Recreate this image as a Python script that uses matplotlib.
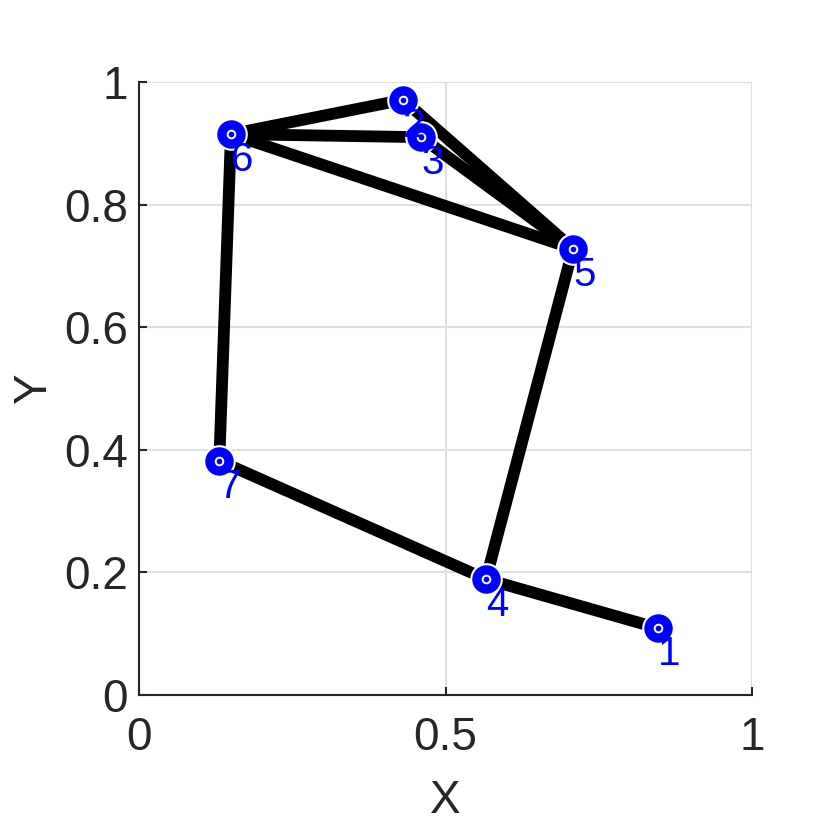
"""Graph plot of a small 7-node network (MATLAB-style look)."""

import matplotlib

matplotlib.use("Agg")
import matplotlib.pyplot as plt

plt.rcParams["font.family"] = ["Liberation Sans", "DejaVu Sans"]

node_ids = ["1", "2", "3", "4", "5", "6", "7"]
node_x = [0.847, 0.431, 0.460, 0.566, 0.708, 0.150, 0.131]
node_y = [0.109, 0.971, 0.910, 0.189, 0.728, 0.915, 0.382]
edges = [(6, 2), (6, 3), (6, 5), (2, 5), (3, 5), (6, 7), (7, 4), (4, 5), (4, 1)]

ticks = [0, 0.2, 0.4, 0.6, 0.8, 1]
xticks = [0, 0.5, 1]

fig = plt.figure(figsize=(8.3, 8.3), dpi=100)
ax = fig.add_axes([139 / 830, 1 - 695 / 830, 613 / 830, 613 / 830])

for a, b in edges:
    ax.plot([node_x[a - 1], node_x[b - 1]], [node_y[a - 1], node_y[b - 1]],
            color="black", linewidth=8.5, solid_capstyle="butt", zorder=2)

ax.plot(node_x, node_y, linestyle="none", marker="o", markersize=22,
        markerfacecolor="blue", markeredgecolor="white", markeredgewidth=1.5, zorder=3)
ax.plot(node_x, node_y, linestyle="none", marker="o", markersize=5.5,
        markerfacecolor="blue", markeredgecolor="white", markeredgewidth=1.4, zorder=4)

for name, x, y in zip(node_ids, node_x, node_y):
    ax.annotate(name, (x, y), xytext=(0, -5), textcoords="offset points",
                ha="left", va="top", color="blue", fontsize=29, zorder=5)

ax.set_xlim(0, 1)
ax.set_ylim(0, 1)
ax.set_xticks(xticks)
ax.set_xticklabels(["0", "0.5", "1"])
ax.set_yticks(ticks)
ax.set_yticklabels(["0", "0.2", "0.4", "0.6", "0.8", "1"])
ax.grid(True, color="#dfdfdf", linewidth=1.5, zorder=0)
ax.set_axisbelow(True)

for side in ("top", "right"):
    ax.spines[side].set_visible(False)
for side in ("left", "bottom"):
    ax.spines[side].set_color("#262626")
    ax.spines[side].set_linewidth(1.5)
ax.tick_params(direction="in", length=6, width=1.5, color="#262626",
               labelcolor="#262626", labelsize=33)
ax.tick_params(axis="x", pad=15)
ax.tick_params(axis="y", pad=8)

ax.set_xlabel("X", fontsize=33, color="#262626", labelpad=14)
ax.set_ylabel("Y", fontsize=33, color="#262626", labelpad=6)

fig.savefig("out.png", dpi=100)
